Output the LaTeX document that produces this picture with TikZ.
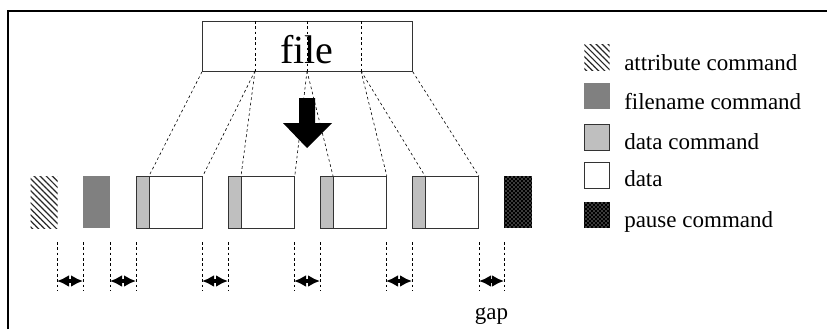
\documentclass[tikz,border=0pt]{standalone}
\usepackage{fontspec}
\setmainfont{Liberation Serif}
\usetikzlibrary{arrows.meta,patterns,patterns.meta}
\begin{document}
\begin{tikzpicture}[x=0.75pt,y=-0.75pt,
  frame/.style={line width=1.2pt},
  blk/.style={draw=black!80,line width=0.6pt,inner sep=0pt,anchor=north west,minimum height=39pt},
  cmdbox/.style={blk,fill=black!25,minimum width=9.75pt},
  databox/.style={blk,fill=white,minimum width=39.75pt},
  hatch/.style={pattern={Lines[angle=-45,distance=3.2pt,line width=0.9pt]},pattern color=black!85},
  weave/.style={fill=black,postaction={pattern=crosshatch dots,pattern color=white}},
  attrbox/.style={inner sep=0pt,anchor=north west,minimum width=20.25pt,minimum height=39pt,hatch},
  namebox/.style={inner sep=0pt,anchor=north west,minimum width=20.25pt,minimum height=39pt,fill=black!50},
  pausebox/.style={inner sep=0pt,anchor=north west,minimum width=21pt,minimum height=39pt,weave},
  guide/.style={dash pattern=on 2pt off 2pt,line width=0.45pt},
  gaparrow/.style={{Latex[length=9pt,width=9pt]}-{Latex[length=9pt,width=9pt]},line width=2.4pt},
  swatch/.style={inner sep=0pt,anchor=north west,minimum width=19pt,minimum height=19.5pt},
  legtext/.style={anchor=base west,inner sep=0pt,font=\fontsize{17.25}{20}\selectfont},
]
\useasboundingbox (0,0) rectangle (827,329);

% outer frame (top and left edges)
\draw[frame] (8,329) -- (8,11) -- (830,11);

% the file, split into four parts
\node[draw=black!80,line width=0.6pt,inner sep=0pt,minimum width=157.5pt,minimum height=37.5pt,
      anchor=north west] (fb) at (202,21) {};
\node[anchor=base,inner sep=0pt,font=\fontsize{30}{34}\selectfont] (ftitle) at (307,63) {file};
\foreach \i/\x in {1/255,2/307,3/361}{
  \coordinate (t\i) at (\x,21);
  \coordinate (s\i) at (\x,71);
  \draw[guide] (t\i) -- (s\i);
}

% command stream
\node[attrbox] (attr) at (30,176) {};
\node[namebox] (fname) at (83,176) {};
\foreach \i in {1,2,3,4}{
  \pgfmathsetmacro{\bx}{136+92*(\i-1)}
  \node[cmdbox] (c\i) at (\bx,176) {};
  \node[databox] (d\i) at (\bx+13,176) {};
}
\node[pausebox] (pause) at (504,176) {};

% projection of the file parts onto the data blocks
\draw[guide] (fb.south west) -- (d1.north west);
\draw[guide] (s1) -- (d1.north east);
\draw[guide] (s1) -- (d2.north west);
\draw[guide] (s2) -- (d2.north east);
\draw[guide] (s2) -- (d3.north west);
\draw[guide] (s3) -- (d3.north east);
\draw[guide] (s3) -- (d4.north west);
\draw[guide] (fb.south east) -- (d4.north east);

% big arrow
\fill[black] (299,98) -- (315,98) -- (315,123) -- (332,123) -- (307,148) -- (283,123) -- (299,123) -- cycle;

% gaps between blocks
\foreach \n/\xa/\xb in {1/57/83,2/110/136,3/202/228,4/294/320,5/386/412,6/479/504}{
  \coordinate (ga\n) at (\xa,242);
  \coordinate (gb\n) at (\xb,242);
  \coordinate (ha\n) at (\xa,291);
  \coordinate (hb\n) at (\xb,291);
  \coordinate (ma\n) at (\xa,281);
  \coordinate (mb\n) at (\xb,281);
  \draw[guide] (ga\n) -- (ha\n);
  \draw[guide] (gb\n) -- (hb\n);
  \draw[gaparrow] (ma\n) -- (mb\n);
}
\node[font=\fontsize{17.25}{20}\selectfont,anchor=base,inner sep=0pt] (gap) at (491.5,319) {gap};

% legend
\node[swatch,hatch] (k1) at (584,44) {};
\node[legtext] (l1) at (624,70) {attribute command};
\node[swatch,fill=black!50] (k2) at (584,83) {};
\node[legtext] (l2) at (624,109) {filename command};
\node[swatch,fill=black!25,draw=black!80,line width=0.6pt] (k3) at (584,124) {};
\node[legtext] (l3) at (624,149) {data command};
\node[swatch,fill=white,draw=black!80,line width=0.6pt] (k4) at (584,162) {};
\node[legtext] (l4) at (624,186) {data};
\node[swatch,weave] (k5) at (584,202) {};
\node[legtext] (l5) at (624,227) {pause command};
\end{tikzpicture}
\end{document}
